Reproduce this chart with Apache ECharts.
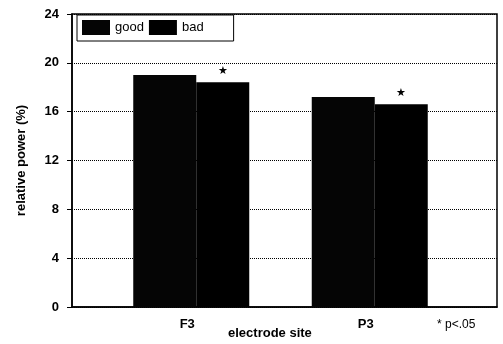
<!DOCTYPE html>
<html>
<head>
<meta charset="utf-8">
<script src="https://cdn.jsdelivr.net/npm/echarts@6/dist/echarts.min.js"></script>
<style>
  html, body { margin: 0; padding: 0; background: #fff; }
  #chart { width: 503px; height: 344px; }
</style>
</head>
<body>
<div id="chart"></div>
<script>
// electrode sites and relative power (%) per group
const sites = ['F3', 'P3'];
const goodValues = [19.0, 17.2];
const badValues = [18.4, 16.6];
const sigMarks = ['★', '★'];   // * p<.05 on the "bad" bars
const yTicks = [0, 4, 8, 12, 16, 20, 24];

const font = 'Liberation Sans, Arial, sans-serif';
const myChart = echarts.init(document.getElementById('chart'));

let option = {
  backgroundColor: '#fff',
  animation: false,
  textStyle: { fontFamily: font, color: '#000' },
  grid: [
    // back wall + y axis
    { left: 72, right: 6, top: 14, bottom: 37, show: true, borderColor: '#000', borderWidth: 1.5 },
    // bars
    { left: 102, right: 44, top: 14, bottom: 37 }
  ],
  legend: {
    data: ['good', 'bad'],
    left: 77,
    top: 15,
    orient: 'horizontal',
    icon: 'rect',
    itemWidth: 28,
    itemHeight: 15,
    itemGap: 5,
    padding: [5, 30, 6, 5],
    borderColor: '#000',
    borderWidth: 1,
    textStyle: { fontSize: 13, color: '#000', fontFamily: font }
  },
  xAxis: [{
    gridIndex: 0,
    type: 'value',
    min: 0,
    max: 1,
    offset: 6,
    axisLine: { show: true, lineStyle: { color: '#000', width: 1.5 } },
    axisTick: { show: false },
    axisLabel: { show: false },
    splitLine: { show: false }
  }, {
    gridIndex: 1,
    type: 'category',
    data: sites,
    axisLine: { show: false },
    axisTick: { show: false },
    axisLabel: { margin: 11, fontSize: 13, fontWeight: 'bold', color: '#000', fontFamily: font, padding: [0, 8, 0, 0] }
  }],
  yAxis: [{
    gridIndex: 0,
    type: 'value',
    min: yTicks[0],
    max: yTicks[yTicks.length - 1],
    interval: 4,
    offset: 9,
    name: 'relative power (%)',
    nameLocation: 'middle',
    nameGap: 35,
    nameTextStyle: { fontSize: 13, fontWeight: 'bold', color: '#000', fontFamily: font },
    axisLine: { show: true, lineStyle: { color: '#000', width: 1.5 } },
    axisTick: { show: true, length: 5, lineStyle: { color: '#000' } },
    axisLabel: { margin: 4, fontSize: 13, fontWeight: 'bold', color: '#000', fontFamily: font },
    splitLine: { show: true, lineStyle: { color: '#000', type: 'dotted', width: 1 } }
  }, {
    gridIndex: 1,
    type: 'value',
    min: 0,
    max: 24,
    show: false
  }],
  series: [{
    name: 'good',
    type: 'bar',
    xAxisIndex: 1,
    yAxisIndex: 1,
    data: goodValues,
    barWidth: 63,
    barGap: '0%',
    itemStyle: { color: '#050505' }
  }, {
    name: 'bad',
    type: 'bar',
    xAxisIndex: 1,
    yAxisIndex: 1,
    data: badValues,
    barWidth: 53,
    barGap: '0%',
    itemStyle: { color: '#000' },
    label: {
      show: true,
      position: 'top',
      distance: 6,
      fontSize: 11,
      color: '#000',
      formatter: function (p) { return sigMarks[p.dataIndex]; }
    }
  }],
  graphic: [{
    type: 'text',
    left: 228,
    top: 327,
    style: { text: 'electrode site', fontSize: 13, fontWeight: 'bold', fontFamily: font, fill: '#000' }
  }, {
    type: 'text',
    left: 437,
    top: 319,
    style: { text: '* p<.05', fontSize: 12, fontFamily: font, fill: '#000' }
  }]
};
myChart.setOption(option);
</script>
</body>
</html>
